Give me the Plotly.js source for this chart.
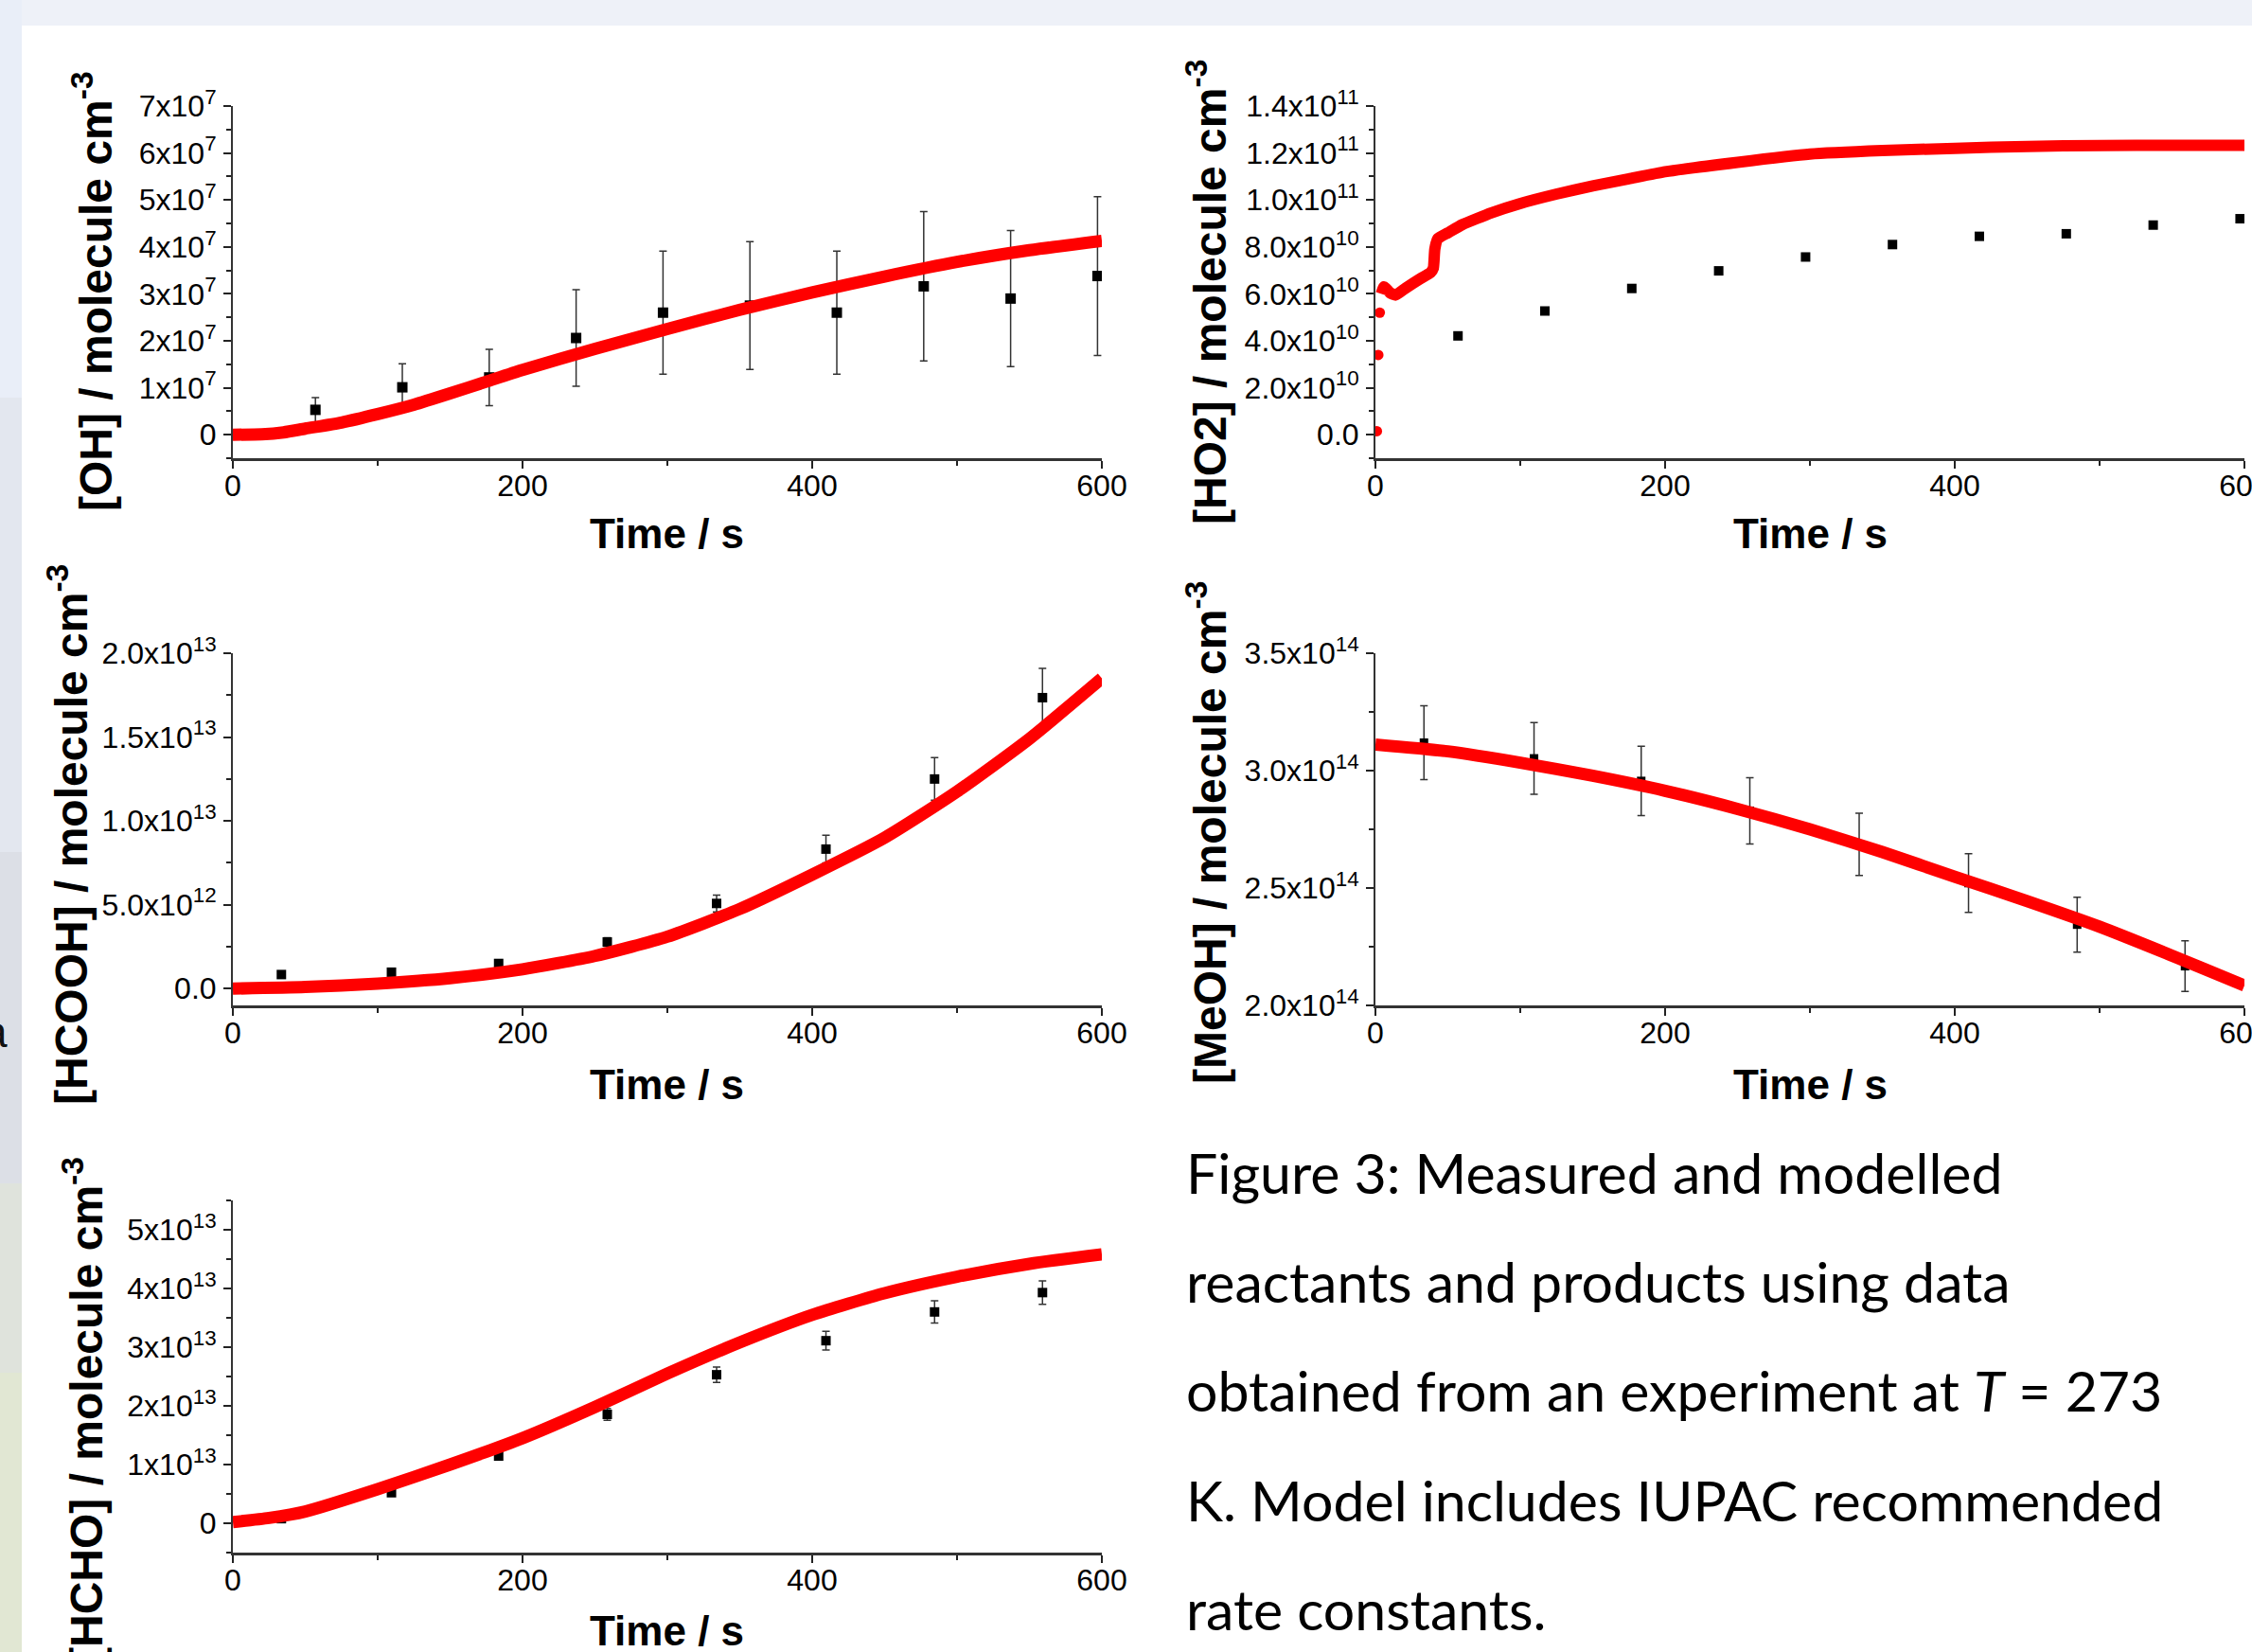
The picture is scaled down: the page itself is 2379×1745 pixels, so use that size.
<!DOCTYPE html>
<html>
<head>
<meta charset="utf-8">
<script src="https://cdn.plot.ly/plotly-3.0.1.min.js"></script>
<style>html,body{margin:0;padding:0;background:#fff;}#chart{width:2379px;height:1745px;}</style>
</head>
<body>
<div id="chart"></div>
<script>
// ---------------- DATA ----------------
// measurement times (s)
const timeRad  = [57, 117, 177, 237, 297, 357, 417, 477, 537, 597];
const timeProd = [33.5, 109.5, 183.5, 258.5, 334, 409.5, 484.5, 559];

// [OH] measured and model
const ohMeas = [0.53e7, 1.01e7, 1.22e7, 2.06e7, 2.60e7, 2.75e7, 2.60e7, 3.16e7, 2.90e7, 3.38e7];
const ohErr  = [0.26e7, 0.50e7, 0.60e7, 1.03e7, 1.31e7, 1.36e7, 1.31e7, 1.59e7, 1.45e7, 1.69e7];
const ohModelT = [0, 20, 35, 50, 75, 100, 125, 150, 175, 200, 250, 300, 350, 400, 450, 500, 550, 600];
const ohModel  = [0, 0.01e7, 0.05e7, 0.13e7, 0.26e7, 0.44e7, 0.64e7, 0.88e7, 1.13e7, 1.38e7, 1.83e7, 2.25e7, 2.66e7, 3.03e7, 3.37e7, 3.68e7, 3.93e7, 4.13e7];

// [HO2] measured and model
const ho2Meas = [4.21e10, 5.27e10, 6.23e10, 6.98e10, 7.57e10, 8.10e10, 8.45e10, 8.56e10, 8.93e10, 9.20e10];
const ho2StartT = [1, 2, 3];
const ho2Start  = [0.15e10, 3.4e10, 5.2e10];
const ho2ModelT = [4, 6, 10, 14, 21, 31, 38, 40, 41, 43, 50, 60, 80, 100, 125, 150, 175, 200, 250, 300, 350, 400, 450, 500, 550, 600];
const ho2Model  = [6.0e10, 6.3e10, 6.05e10, 5.95e10, 6.25e10, 6.65e10, 6.9e10, 7.1e10, 7.9e10, 8.35e10, 8.6e10, 8.95e10, 9.45e10, 9.85e10,
                   10.25e10, 10.6e10, 10.9e10, 11.2e10, 11.6e10, 11.95e10, 12.1e10, 12.2e10, 12.28e10, 12.32e10, 12.33e10, 12.33e10];

// [HCOOH] measured and model
const hcoohMeas = [0.84e12, 0.98e12, 1.50e12, 2.78e12, 5.08e12, 8.32e12, 12.5e12, 17.35e12];
const hcoohErr  = [0.15e12, 0.15e12, 0.2e12, 0.25e12, 0.5e12, 0.83e12, 1.27e12, 1.75e12];
const hcoohModelT = [0, 50, 100, 150, 200, 250, 300, 350, 400, 450, 500, 550, 600];
const hcoohModel  = [0, 0.1e12, 0.3e12, 0.62e12, 1.15e12, 1.95e12, 3.1e12, 4.75e12, 6.8e12, 9.0e12, 11.75e12, 14.9e12, 18.5e12];

// [MeOH] measured and model
const meohMeas = [3.119e14, 3.052e14, 2.956e14, 2.829e14, 2.686e14, 2.521e14, 2.344e14, 2.167e14];
const meohErr  = [0.157e14, 0.153e14, 0.148e14, 0.141e14, 0.133e14, 0.125e14, 0.117e14, 0.108e14];
const meohModelT = [0, 50, 100, 150, 200, 250, 300, 350, 400, 450, 500, 550, 600];
const meohModel  = [3.111e14, 3.082e14, 3.034e14, 2.978e14, 2.914e14, 2.837e14, 2.750e14, 2.653e14, 2.548e14, 2.444e14, 2.335e14, 2.212e14, 2.085e14];

// [HCHO] measured and model
const hchoMeas = [0.078e13, 0.52e13, 1.145e13, 1.855e13, 2.53e13, 3.11e13, 3.60e13, 3.93e13];
const hchoErr  = [0.06e13, 0.05e13, 0.07e13, 0.10e13, 0.13e13, 0.16e13, 0.19e13, 0.20e13];
const hchoModelT = [0, 25, 50, 100, 150, 200, 250, 300, 350, 400, 450, 500, 550, 600];
const hchoModel  = [0.02e13, 0.09e13, 0.2e13, 0.58e13, 1.0e13, 1.45e13, 1.98e13, 2.55e13, 3.08e13, 3.55e13, 3.92e13, 4.2e13, 4.42e13, 4.58e13];

// tick labels
const xTickVals = [0, 200, 400, 600];
const xTickText = ['0', '200', '400', '600'];
const ohTickVals = [0, 1e7, 2e7, 3e7, 4e7, 5e7, 6e7, 7e7];
const ohTickText = ['0', '1x10<sup>7</sup>', '2x10<sup>7</sup>', '3x10<sup>7</sup>', '4x10<sup>7</sup>', '5x10<sup>7</sup>', '6x10<sup>7</sup>', '7x10<sup>7</sup>'];
const ho2TickVals = [0, 2e10, 4e10, 6e10, 8e10, 1e11, 1.2e11, 1.4e11];
const ho2TickText = ['0.0', '2.0x10<sup>10</sup>', '4.0x10<sup>10</sup>', '6.0x10<sup>10</sup>', '8.0x10<sup>10</sup>', '1.0x10<sup>11</sup>', '1.2x10<sup>11</sup>', '1.4x10<sup>11</sup>'];
const hcoohTickVals = [0, 5e12, 1e13, 1.5e13, 2e13];
const hcoohTickText = ['0.0', '5.0x10<sup>12</sup>', '1.0x10<sup>13</sup>', '1.5x10<sup>13</sup>', '2.0x10<sup>13</sup>'];
const meohTickVals = [2e14, 2.5e14, 3e14, 3.5e14];
const meohTickText = ['2.0x10<sup>14</sup>', '2.5x10<sup>14</sup>', '3.0x10<sup>14</sup>', '3.5x10<sup>14</sup>'];
const hchoTickVals = [0, 1e13, 2e13, 3e13, 4e13, 5e13];
const hchoTickText = ['0', '1x10<sup>13</sup>', '2x10<sup>13</sup>', '3x10<sup>13</sup>', '4x10<sup>13</sup>', '5x10<sup>13</sup>'];

const yTitles = ['[OH] / molecule cm<sup>-3</sup>', '[HO2] / molecule cm<sup>-3</sup>', '[HCOOH] / molecule cm<sup>-3</sup>',
                 '[MeOH] / molecule cm<sup>-3</sup>', '[HCHO] / molecule cm<sup>-3</sup>'];
const xTitle = 'Time / s';
const captionLines = ['Figure 3: Measured and modelled', 'reactants and products using data',
  'obtained from an experiment at <i>T</i> = 273', 'K. Model includes IUPAC recommended', 'rate constants.'];

// ---------------- BUILD ----------------
const W = 2379, H = 1745;
const px = v => v / W;
const py = v => 1 - v / H;
const RED = '#ff0000';
const tickFont = {family: 'Liberation Sans, Arial, sans-serif', size: 32, color: '#000'};

function meas(x, y, err, xa, ya, size) {
  const t = {x: x, y: y, xaxis: xa, yaxis: ya, type: 'scatter', mode: 'markers',
    marker: {symbol: 'square', size: size, color: '#000'}, showlegend: false, hoverinfo: 'skip'};
  if (err) t.error_y = {type: 'data', array: err, visible: true, color: '#333', thickness: 1.5, width: 4};
  return t;
}
function model(x, y, xa, ya) {
  return {x: x, y: y, xaxis: xa, yaxis: ya, type: 'scatter', mode: 'lines',
    line: {color: RED, width: 13, shape: 'spline', smoothing: 0.6}, showlegend: false, hoverinfo: 'skip'};
}

const data = [
  meas(timeRad, ohMeas, ohErr, 'x', 'y', 11),
  model(ohModelT, ohModel, 'x', 'y'),
  meas(timeRad, ho2Meas, null, 'x2', 'y2', 10),
  {x: ho2StartT, y: ho2Start, xaxis: 'x2', yaxis: 'y2', type: 'scatter', mode: 'markers',
   marker: {size: 11, color: RED}, showlegend: false, hoverinfo: 'skip'},
  {x: ho2ModelT, y: ho2Model, xaxis: 'x2', yaxis: 'y2', type: 'scatter', mode: 'lines',
   line: {color: RED, width: 12, shape: 'spline', smoothing: 0.4}, showlegend: false, hoverinfo: 'skip'},
  meas(timeProd, hcoohMeas, hcoohErr, 'x3', 'y3', 10),
  model(hcoohModelT, hcoohModel, 'x3', 'y3'),
  meas(timeProd, meohMeas, meohErr, 'x4', 'y4', 9),
  model(meohModelT, meohModel, 'x4', 'y4'),
  meas(timeProd, hchoMeas, hchoErr, 'x5', 'y5', 10),
  model(hchoModelT, hchoModel, 'x5', 'y5')
];

const colL = [px(246), px(1164)];
const colR = [px(1453), px(2371)];
const row1 = [py(484), py(112)];
const row2 = [py(1062), py(690)];
const row3 = [py(1640), py(1268)];

function xax(domain, anchor) {
  return {domain: domain, anchor: anchor, range: [0, 600], tickmode: 'array', tickvals: xTickVals, ticktext: xTickText,
    ticks: 'outside', ticklen: 8, tickwidth: 2, tickcolor: '#222', showline: true, linewidth: 3, linecolor: '#333',
    showgrid: false, zeroline: false, tickfont: tickFont, ticklabelstandoff: -9, ticklabeloverflow: 'allow',
    minor: {tickmode: 'linear', tick0: 0, dtick: 100, ticks: 'outside', ticklen: 5, tickwidth: 2, tickcolor: '#222', showgrid: false},
    fixedrange: true};
}
function yax(domain, anchor, range, vals, text, mdt, m0) {
  return {domain: domain, anchor: anchor, range: range, tickmode: 'array', tickvals: vals, ticktext: text,
    ticks: 'outside', ticklen: 8, tickwidth: 2, tickcolor: '#222', showline: true, linewidth: 2, linecolor: '#333',
    showgrid: false, zeroline: false, tickfont: tickFont, ticklabelstandoff: 1, ticklabeloverflow: 'allow',
    minor: {tickmode: 'linear', tick0: m0, dtick: mdt, ticks: 'outside', ticklen: 5, tickwidth: 2, tickcolor: '#222', showgrid: false},
    fixedrange: true};
}

const annFontTitle = {family: 'Liberation Sans, Arial, sans-serif', size: 48, color: '#000'};
const annotations = [];
const yTitlePos = [[98, 308], [1275, 309], [72, 882], [1275, 880], [88, 1489]];
yTitlePos.forEach((p, i) => annotations.push({xref: 'paper', yref: 'paper', x: px(p[0]), y: py(p[1]),
  xanchor: 'center', yanchor: 'middle', textangle: -90, showarrow: false,
  text: '<b>' + yTitles[i] + '</b>', font: annFontTitle}));
const xTitlePos = [[705, 564], [1912, 564], [705, 1145], [1912, 1145], [705, 1722]];
xTitlePos.forEach(p => annotations.push({xref: 'paper', yref: 'paper', x: px(p[0]), y: py(p[1]),
  xanchor: 'center', yanchor: 'middle', showarrow: false, text: '<b>' + xTitle + '</b>',
  font: {family: 'Liberation Sans, Arial, sans-serif', size: 44, color: '#000'}}));
const capY = [1238, 1353, 1468, 1584, 1699];
captionLines.forEach((t, i) => annotations.push({xref: 'paper', yref: 'paper', x: px(1251), y: py(capY[i]),
  xanchor: 'left', yanchor: 'middle', showarrow: false, text: t, align: 'left',
  font: {family: 'Lato, Open Sans, sans-serif', size: 59, color: '#000'}}));
annotations.push({xref: 'paper', yref: 'paper', x: px(10), y: py(1090), xanchor: 'right', yanchor: 'middle',
  showarrow: false, text: 'a', font: {family: 'Liberation Sans, Arial, sans-serif', size: 46, color: '#111'}});

const rect = (x0, x1, y0, y1, c) => ({type: 'rect', xref: 'paper', yref: 'paper', x0: px(x0), x1: px(x1),
  y0: py(y1), y1: py(y0), fillcolor: c, line: {width: 0}, layer: 'below'});
const shapes = [
  rect(0, W, 0, 27, '#eef1f8'),
  rect(0, 23, 0, 420, '#e9eef8'),
  rect(0, 23, 420, 900, '#e3e7ef'),
  rect(0, 23, 900, 1250, '#dcdfe6'),
  rect(0, 23, 1250, 1450, '#dfe3dc'),
  rect(0, 23, 1450, H, '#e1e7d3')
];

const layout = {
  width: W, height: H, margin: {l: 0, r: 0, t: 0, b: 0, pad: 0},
  paper_bgcolor: '#ffffff', plot_bgcolor: 'rgba(0,0,0,0)', showlegend: false, hovermode: false,
  xaxis: xax(colL, 'y'), yaxis: yax(row1, 'x', [-5e6, 7e7], ohTickVals, ohTickText, 5e6, 0),
  xaxis2: xax(colR, 'y2'), yaxis2: yax(row1, 'x2', [-1e10, 1.4e11], ho2TickVals, ho2TickText, 1e10, 0),
  xaxis3: xax(colL, 'y3'), yaxis3: yax(row2, 'x3', [-1e12, 2e13], hcoohTickVals, hcoohTickText, 2.5e12, 0),
  xaxis4: xax(colR, 'y4'), yaxis4: yax(row2, 'x4', [2e14, 3.5e14], meohTickVals, meohTickText, 0.25e14, 2e14),
  xaxis5: xax(colL, 'y5'), yaxis5: yax(row3, 'x5', [-5e12, 5.5e13], hchoTickVals, hchoTickText, 5e12, 0),
  annotations: annotations, shapes: shapes
};

Plotly.newPlot('chart', data, layout, {staticPlot: true, displayModeBar: false});
</script>
</body>
</html>
